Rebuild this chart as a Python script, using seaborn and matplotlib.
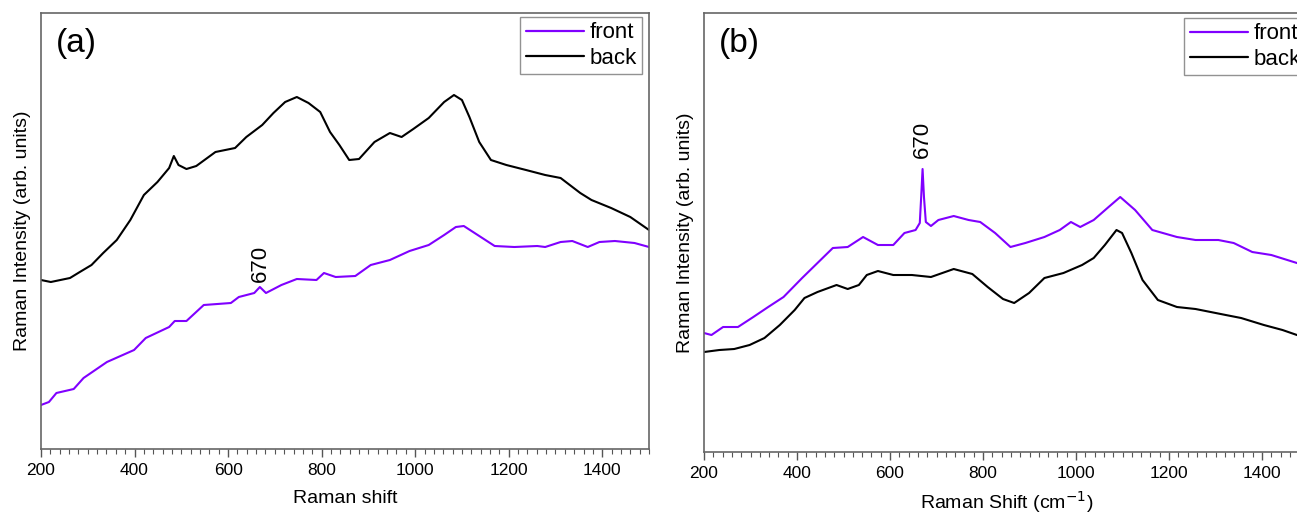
import matplotlib
matplotlib.use("Agg")
import matplotlib.pyplot as plt
from matplotlib.ticker import MultipleLocator
import pandas as pd
import seaborn as sns

# panel (a) -- raman shift / intensity (arb.)
a_front_x = [200, 217, 233, 270, 291, 341, 399, 424, 474, 486, 511, 548, 606, 623, 656, 668, 681,
             714, 747, 789, 805, 830, 872, 905, 946, 988, 1029, 1062, 1087, 1104, 1137, 1170,
             1212, 1261, 1278, 1311, 1336, 1369, 1394, 1427, 1469, 1500]
a_front_y = [44, 47, 56, 60, 71, 87, 99, 111, 122, 128, 128, 144, 146, 152, 156, 162, 156,
             164, 170, 169, 176, 172, 173, 184, 189, 198, 204, 214, 222, 223, 213, 203,
             202, 203, 202, 207, 208, 202, 207, 208, 206, 202]

a_back_x = [200, 221, 262, 283, 308, 333, 362, 391, 420, 449, 474, 484, 494, 511, 532, 573, 615, 639,
            673, 697, 722, 747, 772, 797, 818, 838, 859, 880, 913, 946, 971, 996, 1029, 1062, 1083,
            1100, 1116, 1137, 1162, 1195, 1237, 1278, 1311, 1353, 1377, 1419, 1460, 1500]
a_back_y = [169, 167, 171, 177, 184, 196, 209, 229, 254, 267, 281, 293, 284, 280, 283, 297, 301, 312,
            324, 336, 347, 352, 346, 337, 317, 304, 289, 290, 307, 316, 312, 320, 331, 347, 354,
            349, 332, 307, 289, 284, 279, 274, 271, 256, 249, 241, 232, 219]

# panel (b)
b_front_x = [200, 216, 241, 273, 306, 338, 371, 411, 444, 477, 509, 542, 574, 607, 631, 655, 664, 667,
             670, 673, 677, 688, 704, 737, 769, 794, 826, 859, 891, 932, 965, 989, 1009, 1038, 1070,
             1095, 1127, 1164, 1217, 1257, 1306, 1339, 1379, 1420, 1475, 1500]
b_front_y = [119, 117, 125, 125, 135, 145, 155, 174, 189, 204, 205, 215, 207, 207, 219, 222, 229, 255,
             283, 255, 230, 226, 232, 236, 232, 230, 219, 205, 209, 215, 222, 230, 225, 232, 245,
             255, 242, 222, 215, 212, 212, 209, 200, 197, 189, 187]

b_back_x = [200, 233, 265, 298, 330, 363, 395, 416, 444, 485, 509, 533, 550, 574, 607, 647, 688, 737,
            777, 810, 843, 867, 899, 932, 973, 1013, 1038, 1062, 1087, 1099, 1119, 1143, 1176, 1217,
            1257, 1322, 1355, 1404, 1444, 1475, 1500]
b_back_y = [100, 102, 103, 107, 114, 127, 142, 154, 160, 167, 163, 167, 177, 181, 177, 177, 175, 183,
            178, 165, 153, 149, 159, 174, 179, 187, 194, 207, 222, 219, 199, 172, 152, 145,
            143, 137, 134, 127, 122, 117, 115]

peak_pos = 670
colors = {"front": "#8000ff", "back": "#000000"}


def make_df(fx, fy, bx, by):
    return pd.concat([
        pd.DataFrame({"shift": fx, "intensity": fy, "side": "front"}),
        pd.DataFrame({"shift": bx, "intensity": by, "side": "back"}),
    ])


sns.set_theme(style="white")
plt.rcParams["font.family"] = ["Liberation Sans", "DejaVu Sans"]
plt.rcParams["text.color"] = "black"
plt.rcParams["axes.labelcolor"] = "black"
plt.rcParams["xtick.labelcolor"] = "black"

fig = plt.figure(figsize=(12.97, 5.18), dpi=100)
ax_a = fig.add_axes([0.0316, 0.1332, 0.4688, 0.8417])
ax_b = fig.add_axes([0.5428, 0.1274, 0.4661, 0.8475])

panels = [
    (ax_a, make_df(a_front_x, a_front_y, a_back_x, a_back_y), "(a)", "Raman shift", 436, 186, (0.9885, 0.991), 9),
    (ax_b, make_df(b_front_x, b_front_y, b_back_x, b_back_y), "(b)", "Raman Shift (cm$^{-1}$)", 439, 313, (0.996, 0.989), 6),
]

for ax, df, tag, xlab, ytop, ann_y, leg_anchor, xpad in panels:
    sns.lineplot(data=df, x="shift", y="intensity", hue="side", palette=colors,
                 linewidth=1.5, ax=ax, sort=False)
    ax.set_xlim(200, 1500)
    ax.set_ylim(0, ytop)
    ax.set_yticks([])
    ax.xaxis.set_major_locator(MultipleLocator(200))
    ax.xaxis.set_minor_locator(MultipleLocator(20))
    ax.tick_params(axis="x", which="major", direction="out", length=6, width=1,
                   color="#555555", labelsize=12.5, bottom=True, pad=4)
    ax.tick_params(axis="x", which="minor", direction="out", length=3.5, width=0.8,
                   color="#555555", bottom=True)
    for sp in ax.spines.values():
        sp.set_color("#666666")
        sp.set_linewidth(1.2)
    ax.set_xlabel(xlab, fontsize=14, labelpad=xpad)
    ax.set_ylabel("Raman Intensity (arb. units)", fontsize=14, labelpad=7)
    ax.text(0.025, 0.965, tag, transform=ax.transAxes, fontsize=24, va="top", ha="left")
    ax.text(peak_pos, ann_y, "670", rotation=90, fontsize=16, ha="center", va="center")
    leg = ax.legend(title=None, loc="upper right", bbox_to_anchor=leg_anchor, borderaxespad=0,
                    fontsize=16, frameon=True, fancybox=False, handlelength=2.6,
                    handletextpad=0.25, borderpad=0.25, labelspacing=0.2)
    leg.get_frame().set_edgecolor("#777777")
    leg.get_frame().set_linewidth(1.0)
    for line in leg.get_lines():
        line.set_linewidth(1.6)

fig.savefig("out.png", dpi=100)
